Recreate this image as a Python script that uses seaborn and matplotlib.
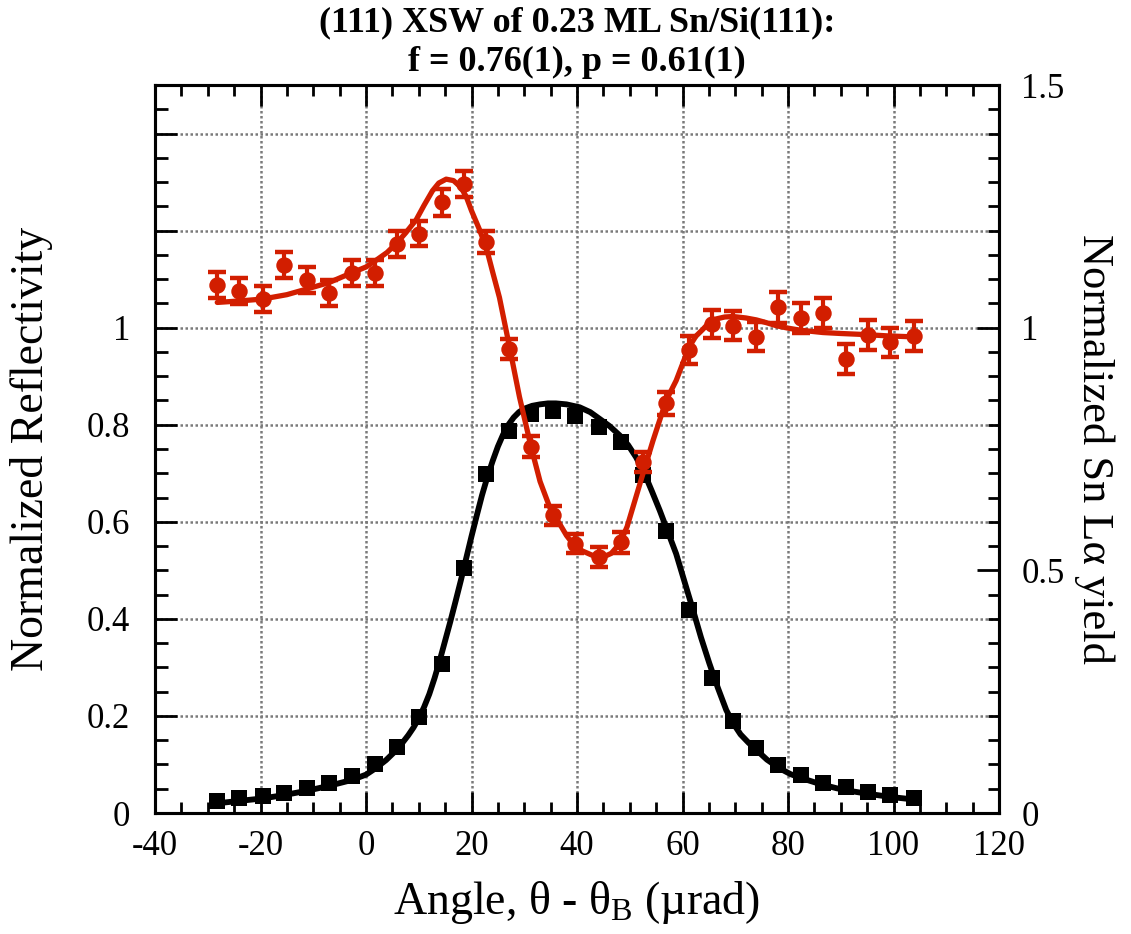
import matplotlib
matplotlib.use("Agg")
import matplotlib.pyplot as plt
import seaborn as sns
import pandas as pd
from matplotlib.ticker import MultipleLocator, FixedLocator, FixedFormatter

# ---------------- data ----------------
angle = [-28.2, -24.0, -19.6, -15.5, -11.1, -7.0, -2.7, 1.8, 5.8, 10.0, 14.4,
         18.65, 22.8, 27.1, 31.3, 35.5, 39.7, 44.1, 48.4, 52.6, 56.9, 61.2,
         65.5, 69.6, 73.9, 78.1, 82.4, 86.6, 91.0, 95.2, 99.4, 103.9]

reflectivity = [0.025, 0.030, 0.035, 0.042, 0.051, 0.061, 0.076, 0.100, 0.135,
                0.197, 0.308, 0.505, 0.698, 0.788, 0.822, 0.828, 0.819, 0.796,
                0.764, 0.697, 0.581, 0.418, 0.278, 0.190, 0.133, 0.099, 0.078,
                0.062, 0.053, 0.044, 0.037, 0.030]

sn_yield = [1.088, 1.075, 1.059, 1.129, 1.098, 1.071, 1.113, 1.113, 1.172,
            1.194, 1.258, 1.296, 1.176, 0.956, 0.755, 0.613, 0.555, 0.527,
            0.558, 0.723, 0.844, 0.954, 1.008, 1.004, 0.981, 1.042, 1.020,
            1.031, 0.936, 0.984, 0.970, 0.982]

sn_err = [0.027, 0.027, 0.027, 0.027, 0.027, 0.027, 0.027, 0.027, 0.027,
          0.026, 0.027, 0.026, 0.023, 0.021, 0.021, 0.019, 0.020, 0.021,
          0.022, 0.020, 0.024, 0.028, 0.029, 0.030, 0.030, 0.032, 0.030,
          0.031, 0.031, 0.031, 0.030, 0.031]

refl_fit_x = [-28.2, -24.0, -19.6, -15.5, -11.1, -7.0, -2.7, 0.0, 1.8, 3.8,
              5.8, 7.0, 8.0, 9.0, 10.0, 11.0, 12.0, 13.0, 14.0, 15.0, 16.0,
              17.0, 18.0, 19.0, 20.0, 21.0, 22.0, 23.0, 24.0, 25.0, 26.0, 27.0,
              28.0, 29.0, 30.0, 31.5, 33.0, 34.5, 36.0, 38.0, 40.5, 42.5, 44.3,
              46.2, 48.1, 49.7, 51.2, 52.8, 54.2, 55.7, 57.2, 58.8, 60.4, 62.0,
              63.5, 65.1, 66.7, 68.3, 69.6, 71.0, 72.5, 74.0, 76.0, 78.4, 80.5,
              82.8, 86.0, 89.2, 92.0, 95.5, 99.5, 103.7]
refl_fit_y = [0.020, 0.025, 0.030, 0.037, 0.046, 0.056, 0.068, 0.079, 0.092,
              0.109, 0.130, 0.146, 0.160, 0.176, 0.195, 0.218, 0.245, 0.278,
              0.315, 0.355, 0.395, 0.437, 0.480, 0.525, 0.570, 0.613, 0.655,
              0.692, 0.725, 0.755, 0.780, 0.800, 0.815, 0.826, 0.833, 0.839,
              0.842, 0.844, 0.844, 0.842, 0.836, 0.826, 0.812, 0.797, 0.778,
              0.758, 0.733, 0.699, 0.663, 0.623, 0.580, 0.534, 0.476, 0.418,
              0.362, 0.308, 0.258, 0.212, 0.185, 0.162, 0.145, 0.130, 0.110,
              0.092, 0.080, 0.071, 0.060, 0.051, 0.045, 0.039, 0.033, 0.028]

sn_fit_x = [-28.2, -24.0, -19.6, -15.0, -11.1, -7.0, -2.7, 0.0, 1.8, 4.0, 5.8,
            7.5, 9.5, 11.0, 12.6, 13.8, 15.2, 16.6, 18.0, 19.0, 20.0, 21.4,
            22.8, 24.0, 25.3, 27.1, 29.1, 31.3, 33.0, 35.0, 36.7, 38.0, 39.2,
            41.0, 42.9, 44.9, 46.5, 48.1, 49.5, 50.6, 52.5, 54.4, 56.9, 58.8,
            60.0, 61.2, 62.5, 63.9, 65.0, 66.4, 68.0, 69.6, 72.0, 74.0, 76.0,
            77.8, 80.0, 82.2, 86.6, 90.0, 94.2, 99.0, 103.9]
sn_fit_y = [1.052, 1.055, 1.059, 1.068, 1.080, 1.093, 1.113, 1.125, 1.138,
            1.155, 1.174, 1.195, 1.222, 1.252, 1.282, 1.298, 1.306, 1.303,
            1.289, 1.270, 1.241, 1.205, 1.165, 1.115, 1.062, 0.966, 0.857,
            0.754, 0.683, 0.625, 0.596, 0.572, 0.555, 0.540, 0.531, 0.527,
            0.535, 0.555, 0.590, 0.630, 0.699, 0.767, 0.850, 0.891, 0.925,
            0.959, 0.982, 0.997, 1.010, 1.018, 1.022, 1.023, 1.020, 1.016,
            1.010, 1.004, 0.999, 0.995, 0.990, 0.988, 0.986, 0.983, 0.981]

title = "(111) XSW of 0.23 ML Sn/Si(111):\nf = 0.76(1), p = 0.61(1)"
xlabel = r"Angle, θ - θ$_\mathrm{B}$ (µrad)"
ylabel_left = "Normalized Reflectivity"
ylabel_right = "Normalized Sn Lα yield"

left_ticks = [0, 0.2, 0.4, 0.6, 0.8, 1.0, 1.2, 1.4]
left_labels = ["0", "0.2", "0.4", "0.6", "0.8", "1", "", ""]
right_ticks = [0, 0.5, 1.0, 1.5]
right_labels = ["0", "0.5", "1", "1.5"]
x_ticks = [-40, -20, 0, 20, 40, 60, 80, 100, 120]
x_labels = ["-40", "-20", "0", "20", "40", "60", "80", "100", "120"]

RED = "#D21E00"

# ---------------- styling ----------------
sns.set_theme(style="ticks")
plt.rcParams["font.family"] = ["Liberation Serif", "DejaVu Serif"]
plt.rcParams["mathtext.fontset"] = "custom"
plt.rcParams["mathtext.rm"] = "Liberation Serif"
plt.rcParams["mathtext.it"] = "Liberation Serif:italic"
plt.rcParams["axes.unicode_minus"] = False
for k in ("text.color", "axes.labelcolor", "xtick.color", "ytick.color",
          "axes.edgecolor"):
    plt.rcParams[k] = "black"

fig = plt.figure(figsize=(11.31, 9.34), dpi=100)
ax = fig.add_axes([155 / 1131, 1 - 813 / 934, (999 - 155) / 1131, (813 - 85) / 934])
ax2 = ax.twinx()

df_pts = pd.DataFrame({"angle": angle, "refl": reflectivity, "sn": sn_yield})
df_rfit = pd.DataFrame({"x": refl_fit_x, "y": refl_fit_y})
df_sfit = pd.DataFrame({"x": sn_fit_x, "y": sn_fit_y})

# reflectivity (left axis)
sns.lineplot(data=df_rfit, x="x", y="y", ax=ax, color="black", lw=4.2,
             sort=False, estimator=None, zorder=3)
sns.scatterplot(data=df_pts, x="angle", y="refl", ax=ax, marker="s", s=140,
                color="black", edgecolor="black", linewidth=0, zorder=4)

# Sn yield (right axis)
sns.lineplot(data=df_sfit, x="x", y="y", ax=ax2, color=RED, lw=3.8,
             sort=False, estimator=None, zorder=3)
ax2.errorbar(angle, sn_yield, yerr=sn_err, fmt="none", ecolor=RED,
             elinewidth=3.0, capsize=6.5, capthick=3.2, zorder=4)
sns.scatterplot(data=df_pts, x="angle", y="sn", ax=ax2, marker="o", s=140,
                color=RED, edgecolor=RED, linewidth=0, zorder=5)

# axes limits & ticks
for a in (ax, ax2):
    a.set_xlim(-40, 120)
    a.set_ylim(0, 1.5)
    a.set_facecolor("none")

ax.xaxis.set_major_locator(FixedLocator(x_ticks))
ax.xaxis.set_major_formatter(FixedFormatter(x_labels))
ax.xaxis.set_minor_locator(MultipleLocator(5))
ax.yaxis.set_major_locator(FixedLocator(left_ticks))
ax.yaxis.set_major_formatter(FixedFormatter(left_labels))
ax.yaxis.set_minor_locator(MultipleLocator(0.05))

ax2.yaxis.set_major_locator(FixedLocator(right_ticks))
ax2.yaxis.set_major_formatter(FixedFormatter(right_labels))
ax2.yaxis.set_minor_locator(MultipleLocator(0.05))

ax.tick_params(axis="x", which="both", direction="in", top=True, bottom=True,
               labelsize=25, pad=12, width=2.0)
ax.tick_params(axis="x", which="major", length=15)
ax.tick_params(axis="x", which="minor", length=8)
ax.tick_params(axis="y", which="both", direction="in", left=True, right=False,
               labelsize=25, pad=18, width=2.0)
ax.tick_params(axis="y", which="major", length=16)
ax.tick_params(axis="y", which="minor", length=9)
ax2.tick_params(axis="y", which="both", direction="in", right=True, left=False,
                labelsize=25, pad=16, width=2.0)
ax2.tick_params(axis="y", which="major", length=16)
ax2.tick_params(axis="y", which="minor", length=8)

ax.grid(True, which="major", color="#7a7a7a", linestyle=(0, (1.0, 1.0)),
        linewidth=1.8)
ax2.grid(False)

for a in (ax, ax2):
    for sp in a.spines.values():
        sp.set_linewidth(2.2)
        sp.set_color("black")
        sp.set_visible(True)

ax.set_xlabel(xlabel, fontsize=33, labelpad=12)
ax.set_ylabel(ylabel_left, fontsize=33, labelpad=24)
ax2.set_ylabel(ylabel_right, fontsize=32, rotation=270, labelpad=36)
ax.set_title(title, fontsize=26, fontweight="bold", pad=10, linespacing=1.25)

fig.savefig("out.png", dpi=100)
